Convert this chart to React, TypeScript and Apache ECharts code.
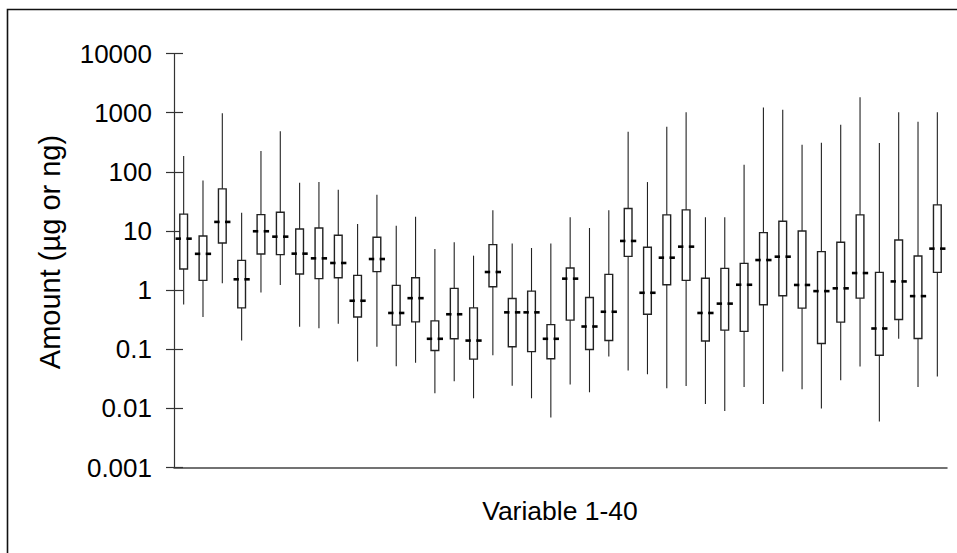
import React, { useEffect, useRef } from "react";
import * as echarts from "echarts";

// Box plot statistics for 40 variables (log scale)
const categories = Array.from({ length: 40 }, (_, i) => `Variable ${i + 1}`);
const mins = [0.57, 0.35, 1.31, 0.14, 0.91, 1.22, 0.24, 0.227, 0.27, 0.062, 0.11, 0.0515, 0.059, 0.018, 0.0287, 0.0148, 0.079, 0.024, 0.0148, 0.007, 0.0252, 0.0187, 0.075, 0.0435, 0.0377, 0.0218, 0.0239, 0.0118, 0.009, 0.023, 0.0118, 0.042, 0.021, 0.0099, 0.0298, 0.0508, 0.006, 0.15, 0.023, 0.0344];
const q1s = [2.27, 1.46, 6.26, 0.5, 4.07, 3.97, 1.87, 1.56, 1.62, 0.35, 2.05, 0.255, 0.29, 0.095, 0.15, 0.068, 1.14, 0.11, 0.091, 0.069, 0.31, 0.0987, 0.14, 3.72, 0.39, 1.23, 1.46, 0.138, 0.21, 0.2, 0.564, 0.8, 0.495, 0.125, 0.287, 0.73, 0.079, 0.318, 0.152, 1.99];
const medians = [7.4, 4.1, 14.2, 1.52, 9.87, 8.0, 4.13, 3.44, 2.87, 0.66, 3.35, 0.41, 0.73, 0.15, 0.39, 0.14, 2.02, 0.42, 0.42, 0.15, 1.56, 0.242, 0.43, 6.77, 0.9, 3.53, 5.42, 0.41, 0.59, 1.23, 3.22, 3.67, 1.22, 0.96, 1.07, 1.94, 0.224, 1.4, 0.79, 5.02];
const q3s = [19.2, 8.2, 51.5, 3.18, 18.9, 20.7, 10.8, 11.2, 8.45, 1.77, 7.8, 1.2, 1.62, 0.302, 1.07, 0.5, 5.87, 0.72, 0.96, 0.26, 2.36, 0.75, 1.84, 23.9, 5.29, 18.7, 22.7, 1.58, 2.33, 2.83, 9.37, 14.6, 10, 4.47, 6.43, 18.7, 1.99, 7.03, 3.77, 27.6];
const maxs = [184, 71, 975, 20.2, 224, 483, 65, 67, 49.5, 13.1, 40.8, 12.2, 17.3, 4.95, 6.43, 3.82, 22.4, 6.1, 5.15, 6.1, 17.1, 11.2, 22.4, 476, 67, 579, 1013, 17.1, 17.1, 131.5, 1216, 1124, 287, 310, 626, 1820, 306, 1013, 703, 1013];
const tickLabels = ["0.001", "0.01", "0.1", "1", "10", "100", "1000", "10000"];

const FONT = "'Liberation Sans', Arial, sans-serif";

export default function App() {
  const ref = useRef<HTMLDivElement>(null);
  useEffect(() => {
    if (!ref.current) return;
    const chart = echarts.init(ref.current, null, { renderer: "svg" });
    const data = categories.map((_, i) => [i, mins[i], q1s[i], medians[i], q3s[i], maxs[i]]);
    const labelFmt = (v: number) => {
      const e = Math.round(Math.log10(v));
      return tickLabels[e + 3] ?? "";
    };
    const yBase = {
      type: "log" as const,
      logBase: 10,
      min: 0.001,
      max: 10000,
      splitNumber: 7,
      splitLine: { show: false },
    };
    chart.setOption({
      animation: false,
      backgroundColor: "#fff",
      grid: { left: 174, right: 10, top: 53.5, bottom: 85.5, containLabel: false },
      xAxis: {
        type: "category",
        data: categories,
        boundaryGap: true,
        axisTick: { show: false },
        axisLabel: { show: false },
        axisLine: { lineStyle: { color: "#444", width: 1.5 } },
      },
      yAxis: [
        {
          ...yBase,
          axisLine: { show: true, lineStyle: { color: "#333", width: 1.2 } },
          axisTick: { show: true, length: 8, lineStyle: { color: "#333", width: 1.2 } },
          axisLabel: { formatter: labelFmt, color: "#000", fontSize: 26, fontFamily: FONT, margin: 22 },
        },
        {
          ...yBase,
          position: "left",
          axisLine: { show: false },
          axisTick: { show: true, inside: true, length: 9, lineStyle: { color: "#333", width: 1.2 } },
          axisLabel: { show: false },
        },
      ],
      series: [
        {
          type: "custom",
          xAxisIndex: 0,
          yAxisIndex: 0,
          data,
          encode: { x: 0, y: [1, 2, 3, 4, 5] },
          renderItem: (params: any, api: any) => {
            const idx = api.value(0);
            const pMin = api.coord([idx, api.value(1)]);
            const pQ1 = api.coord([idx, api.value(2)]);
            const pMed = api.coord([idx, api.value(3)]);
            const pQ3 = api.coord([idx, api.value(4)]);
            const pMax = api.coord([idx, api.value(5)]);
            const band = api.coord([1, 1])[0] - api.coord([0, 1])[0];
            const cx = pMin[0];
            const bw = band * 0.4;
            const dashOut = band * 0.42;
            const dashIn = band * 0.14;
            return {
              type: "group",
              children: [
                {
                  type: "line",
                  shape: { x1: cx, y1: pMax[1], x2: cx, y2: pMin[1] },
                  style: { stroke: "#222", lineWidth: 1.1 },
                },
                {
                  type: "rect",
                  shape: { x: cx - bw / 2, y: pQ3[1], width: bw, height: pQ1[1] - pQ3[1] },
                  style: { fill: "#fff", stroke: "#222", lineWidth: 1.4 },
                },
                {
                  type: "line",
                  shape: { x1: cx - dashOut, y1: pMed[1], x2: cx - dashIn, y2: pMed[1] },
                  style: { stroke: "#000", lineWidth: 2.6 },
                },
                {
                  type: "line",
                  shape: { x1: cx + dashIn, y1: pMed[1], x2: cx + dashOut, y2: pMed[1] },
                  style: { stroke: "#000", lineWidth: 2.6 },
                },
              ],
            };
          },
        },
      ],
      graphic: [
        {
          type: "rect",
          shape: { x: 7.5, y: 9.5, width: 1000, height: 600 },
          style: { fill: "none", stroke: "#111", lineWidth: 1.6 },
          silent: true,
        },
        {
          type: "text",
          x: 50,
          y: 252,
          rotation: Math.PI / 2,
          style: {
            text: "Amount (µg or ng)",
            fill: "#000",
            fontSize: 29,
            fontFamily: FONT,
            textAlign: "center",
            textVerticalAlign: "middle",
          },
        },
        {
          type: "text",
          x: 560,
          y: 511,
          style: {
            text: "Variable 1-40",
            fill: "#000",
            fontSize: 26.5,
            fontFamily: FONT,
            textAlign: "center",
            textVerticalAlign: "middle",
          },
        },
      ],
    });
    return () => chart.dispose();
  }, []);
  return (
    <div
      ref={ref}
      style={{ position: "fixed", left: 0, top: 0, width: 957, height: 553, background: "#fff" }}
    />
  );
}
